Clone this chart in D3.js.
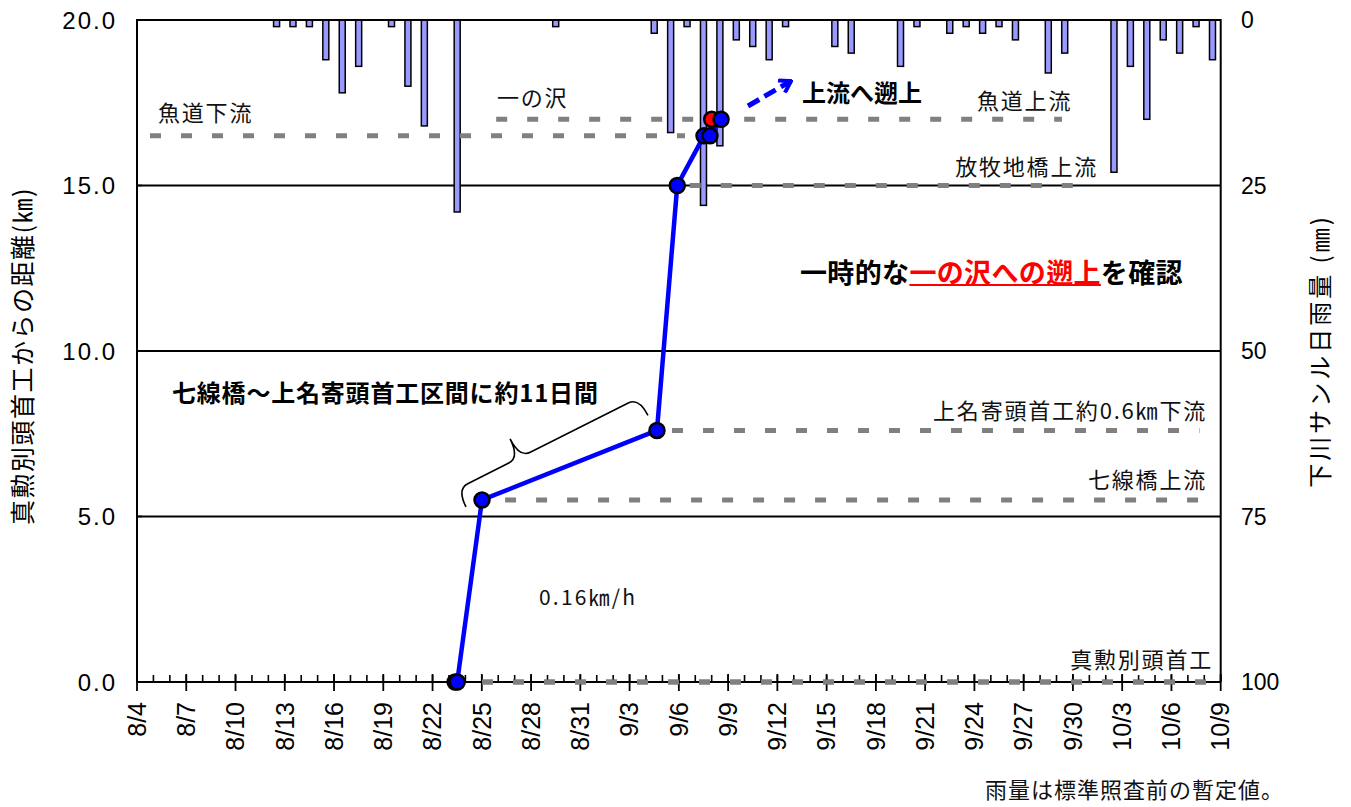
<!DOCTYPE html>
<html><head><meta charset="utf-8">
<script src="https://cdn.jsdelivr.net/npm/d3@7"></script>
<style>
html,body{margin:0;padding:0;background:#fff;}
svg{display:block;}
</style>
</head><body>
<svg id="chart" width="1351" height="807"></svg>
<script>
// ---------------- data ----------------
const YEAR = 2021;
const xTickLabels = ["8/4","8/7","8/10","8/13","8/16","8/19","8/22","8/25","8/28","8/31","9/3","9/6","9/9","9/12","9/15","9/18","9/21","9/24","9/27","9/30","10/3","10/6","10/9"];
const yTickLabels = ["0.0","5.0","10.0","15.0","20.0"];
const yTickValues = [0,5,10,15,20];
const rainTickValues = [0,25,50,75,100];

// daily rainfall (mm), 下川サンル
const rainDates  = ["8/12","8/13","8/14","8/15","8/16","8/17","8/19","8/20","8/21","8/23","8/29","9/4","9/5","9/6","9/7","9/8","9/9","9/10","9/11","9/12","9/15","9/16","9/19","9/20","9/22","9/23","9/24","9/25","9/26","9/28","9/29","10/2","10/3","10/4","10/5","10/6","10/7","10/8"];
const rainValues = [1,1,1,6,11,7,1,10,16,29,1,2,17,1,28,19,3,4,6,1,4,5,7,1,2,1,2,1,3,8,5,23,7,15,3,5,1,6];

// fish detections: distance from 真勲別頭首工 (km)
const trackTimes = ["8/23 09:00","8/23 12:00","8/25 00:15","9/4 16:00","9/5 21:40","9/7 12:45","9/7 21:30","9/8 13:40"];
const trackKm    = [0,0,5.5,7.6,15.0,16.5,16.5,17.0];
const redTimes   = ["9/8 00:00"];
const redKm      = [17.0];

// reference sites (dashed lines)
const siteNames  = ["魚道下流","一の沢","放牧地橋上流","上名寄頭首工約0.6㎞下流","七線橋上流","真勲別頭首工"];
const siteKm     = [16.5,17.0,15.0,7.6,5.5,0.0];
const siteFrom   = ["8/4 19:00","8/25 21:00","9/6 16:00","9/5 14:00","8/26 10:00","8/25 00:15"];
const siteTo     = ["9/6 09:00","9/29 08:00","9/30 07:30","10/7 17:00","10/7 22:30","10/8 03:00"];

// ---------------- helpers ----------------
function parseMD(s){
  const [md, hm] = s.split(" ");
  const [m,d] = md.split("/").map(Number);
  let h=0, mi=0;
  if(hm){ [h,mi] = hm.split(":").map(Number); }
  return new Date(YEAR, m-1, d, h, mi);
}

const svg = d3.select("#chart");
svg.append("rect").attr("width",1351).attr("height",807).attr("fill","#fff");

const L=137, R=1220.7, T=20, B=682;
const x = d3.scaleTime().domain([parseMD("8/4"), parseMD("10/9")]).range([L,R]);
const y = d3.scaleLinear().domain([0,20]).range([B,T]);
const yR = d3.scaleLinear().domain([0,100]).range([T,B]);

const JP = "'Noto Sans CJK JP','Noto Sans',sans-serif";
const SANS = "'Liberation Sans',Arial,sans-serif";

// gridlines
svg.append("g").selectAll("line").data([5,10,15]).join("line")
  .attr("x1",L).attr("x2",R).attr("y1",d=>y(d)).attr("y2",d=>y(d))
  .attr("stroke","#000").attr("stroke-width",1.8);

// rain bars
const rain = rainDates.map((d,i)=>({date:parseMD(d), v:rainValues[i]}));
const barW = 6;
svg.append("g").selectAll("rect").data(rain).join("rect")
  .attr("x", d => x(d3.timeHour.offset(d.date,12)) - barW/2)
  .attr("y", yR(0))
  .attr("width", barW)
  .attr("height", d => yR(d.v) - yR(0))
  .attr("fill","#9999ff").attr("stroke","#000").attr("stroke-width",1.5);

// reference dashed lines
svg.append("g").selectAll("line").data(siteKm).join("line")
  .attr("x1",(d,i)=>x(parseMD(siteFrom[i]))).attr("x2",(d,i)=>x(parseMD(siteTo[i])))
  .attr("y1",d=>y(d)).attr("y2",d=>y(d))
  .attr("stroke","#808080").attr("stroke-width",5).attr("stroke-dasharray","11,20");

// frame (top, left, right)
svg.append("path").attr("d",`M${L},${B}V${T}H${R}V${B}`).attr("fill","none").attr("stroke","#000").attr("stroke-width",2);

// x axis
const dayTicks = d3.timeDay.range(parseMD("8/4"), d3.timeDay.offset(parseMD("10/9"),1));
const gx = svg.append("g");
gx.selectAll("line.minor").data(dayTicks).join("line").attr("class","minor")
  .attr("x1",d=>x(d)).attr("x2",d=>x(d)).attr("y1",B-7).attr("y2",B)
  .attr("stroke","#000").attr("stroke-width",1.6);
const majors = xTickLabels.map(parseMD);
gx.selectAll("line.major").data(majors).join("line").attr("class","major")
  .attr("x1",d=>x(d)).attr("x2",d=>x(d)).attr("y1",B-8).attr("y2",B+9)
  .attr("stroke","#000").attr("stroke-width",1.8);
gx.append("line").attr("x1",L).attr("x2",R).attr("y1",B).attr("y2",B).attr("stroke","#000").attr("stroke-width",2);
// the 真勲別頭首工 dashed line drawn over the axis
svg.append("line")
  .attr("x1",x(parseMD(siteFrom[5]))).attr("x2",x(parseMD(siteTo[5])))
  .attr("y1",y(0)).attr("y2",y(0))
  .attr("stroke","#808080").attr("stroke-width",5).attr("stroke-dasharray","11,20");

gx.selectAll("text").data(majors).join("text")
  .attr("transform",(d)=>`translate(${x(d)},${B+20}) rotate(-90)`)
  .attr("text-anchor","end").attr("dy","0.35em")
  .attr("font-family",SANS).attr("font-size",25).attr("fill","#000")
  .text((d,i)=>xTickLabels[i]);

// left axis labels
svg.append("g").selectAll("text").data(yTickValues).join("text")
  .attr("x",117).attr("y",d=>y(d)).attr("dy","0.36em").attr("text-anchor","end")
  .attr("font-family",SANS).attr("font-size",24).attr("letter-spacing",2).attr("fill","#000")
  .text((d,i)=>yTickLabels[i]);
// left axis ticks
svg.append("g").selectAll("line").data(yTickValues).join("line")
  .attr("x1",L).attr("x2",L+5).attr("y1",d=>y(d)).attr("y2",d=>y(d)).attr("stroke","#000").attr("stroke-width",1.6);

// right axis labels
svg.append("g").selectAll("text").data(rainTickValues).join("text")
  .attr("x",1241).attr("y",d=>yR(d)).attr("dy","0.36em").attr("text-anchor","start")
  .attr("font-family",SANS).attr("font-size",23).attr("fill","#000")
  .text(d=>d);

// axis titles
svg.append("text").attr("transform","translate(23,356) rotate(-90)")
  .attr("text-anchor","middle").attr("dy","0.36em")
  .attr("font-family",JP).attr("font-size",25).attr("letter-spacing",1.5).attr("fill","#000")
  .text("真勲別頭首工からの距離(㎞)");
svg.append("text").attr("transform","translate(1320,351) rotate(-90)")
  .attr("text-anchor","middle").attr("dy","0.36em")
  .attr("font-family",JP).attr("font-size",24).attr("letter-spacing",3).attr("fill","#000")
  .text("下川サンル日雨量 (㎜)");

// site labels
const siteLab = [
  {i:0, x:158, dy:-23, anchor:"start"},
  {i:1, x:497, dy:-21, anchor:"start"},
  {i:2, x:1098, dy:-18, anchor:"end"},
  {i:3, x:1207, dy:-19, anchor:"end"},
  {i:4, x:1207, dy:-20, anchor:"end"},
  {i:5, x:1213, dy:-22, anchor:"end"}
];
svg.append("g").selectAll("text").data(siteLab).join("text")
  .attr("x",d=>d.x).attr("y",d=>y(siteKm[d.i])+d.dy).attr("dy","0.36em")
  .attr("text-anchor",d=>d.anchor)
  .attr("font-family",JP).attr("font-size",22).attr("letter-spacing",1.8).attr("fill","#111")
  .text(d=>siteNames[d.i]);
svg.append("text").attr("x",977).attr("y",y(17)-18).attr("dy","0.36em")
  .attr("font-family",JP).attr("font-size",22).attr("letter-spacing",1.8).attr("fill","#111")
  .text("魚道上流");

// track line
const track = trackTimes.map((t,i)=>({t:parseMD(t), km:trackKm[i]}));
const red = redTimes.map((t,i)=>({t:parseMD(t), km:redKm[i]}));
svg.append("path").datum(track)
  .attr("d", d3.line().x(d=>x(d.t)).y(d=>y(d.km)))
  .attr("fill","none").attr("stroke","#0000ff").attr("stroke-width",4.5);

// brace (annotation) between 8/25 and 9/4 points
(function(){
  const p1 = [x(track[2].t)-16, y(track[2].km)+7];
  const p2 = [x(track[3].t)-9,  y(track[3].km)-15];
  const dx = p2[0]-p1[0], dy = p2[1]-p1[1];
  const len = Math.hypot(dx,dy), ang = Math.atan2(dy,dx)*180/Math.PI;
  const tip = 70, h = 20, th = 41, r = 12;
  const path = `M0,0 Q0,${-h} ${r},${-h} L${tip-r},${-h} Q${tip},${-h} ${tip},${-th} Q${tip},${-h} ${tip+r},${-h} L${len-r},${-h} Q${len},${-h} ${len},0`;
  svg.append("path").attr("transform",`translate(${p1[0]},${p1[1]}) rotate(${ang})`)
    .attr("d",path).attr("fill","none").attr("stroke","#000").attr("stroke-width",1.6);
})();

// markers
svg.append("g").selectAll("circle").data(red).join("circle")
  .attr("cx",d=>x(d.t)).attr("cy",d=>y(d.km)).attr("r",7.5)
  .attr("fill","#ff0000").attr("stroke","#000").attr("stroke-width",2.5);
svg.append("g").selectAll("circle").data(track).join("circle")
  .attr("cx",d=>x(d.t)).attr("cy",d=>y(d.km)).attr("r",7.5)
  .attr("fill","#0000ff").attr("stroke","#000").attr("stroke-width",2.5);

// dashed blue arrow
svg.append("defs").append("marker").attr("id","ah")
  .attr("viewBox","-12 -8 14 16").attr("refX",0).attr("refY",0)
  .attr("markerWidth",14).attr("markerHeight",16).attr("markerUnits","userSpaceOnUse").attr("orient","auto")
  .append("path").attr("d","M-11,-7 L0,0 L-11,7").attr("fill","none").attr("stroke","#0000ff").attr("stroke-width",4);
svg.append("line").attr("x1",748).attr("y1",106).attr("x2",791).attr("y2",81)
  .attr("stroke","#0000ff").attr("stroke-width",5).attr("stroke-dasharray","13,6")
  .attr("marker-end","url(#ah)");

// bold annotations
svg.append("text").attr("x",802).attr("y",93).attr("dy","0.36em")
  .attr("font-family",JP).attr("font-weight","bold").attr("font-size",24).attr("fill","#000")
  .text("上流へ遡上");
svg.append("text").attr("x",172).attr("y",393).attr("dy","0.36em")
  .attr("font-family",JP).attr("font-weight","bold").attr("font-size",24).attr("letter-spacing",0.8).attr("fill","#000")
  .text("七線橋～上名寄頭首工区間に約11日間");

// 一時的な一の沢への遡上を確認
(function(){
  const parts = [["一時的な","#000"],["一の沢への遡上","#ff0000"],["を確認","#000"]];
  let cx = 800, cy = 273;
  parts.forEach((p,k)=>{
    const t = svg.append("text").attr("x",cx).attr("y",cy).attr("dy","0.36em")
      .attr("font-family",JP).attr("font-weight","bold").attr("font-size",27).attr("letter-spacing",0.35).attr("fill",p[1])
      .text(p[0]);
    const w = t.node().getComputedTextLength();
    if(k===1){
      svg.append("line").attr("x1",cx).attr("x2",cx+w).attr("y1",cy+12).attr("y2",cy+12)
        .attr("stroke","#ff0000").attr("stroke-width",2.2);
    }
    cx += w;
  });
})();

// other texts
svg.append("text").attr("x",539).attr("y",597).attr("dy","0.36em")
  .attr("font-family",JP).attr("font-size",21).attr("letter-spacing",2.2).attr("fill","#111")
  .text("0.16㎞/h");
svg.append("text").attr("x",985).attr("y",790).attr("dy","0.36em")
  .attr("font-family",JP).attr("font-size",22).attr("letter-spacing",1).attr("fill","#111")
  .text("雨量は標準照査前の暫定値。");
</script>
</body></html>
